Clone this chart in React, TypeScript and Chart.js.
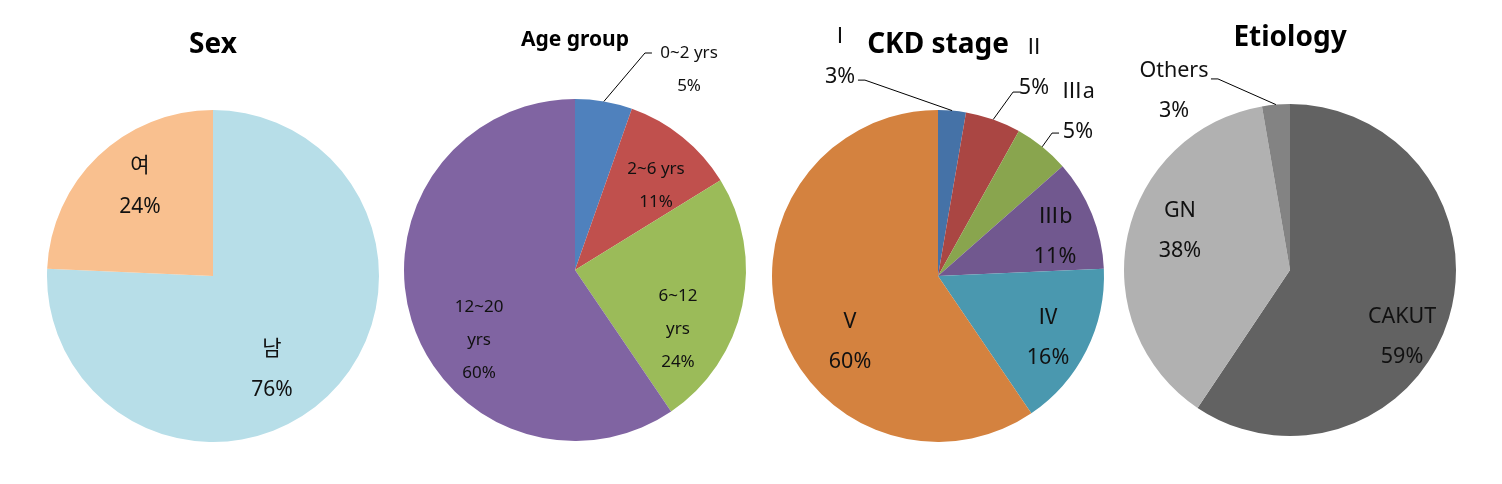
import React, { useEffect, useRef } from 'react';
import { Chart, registerables } from 'chart.js';

Chart.register(...registerables);

// ---- data (percent shares; labels show the rounded value) ----
const sexCategories = ['남', '여'];
const sexValues = [75.7, 24.3];

const ageCategories = ['0~2 yrs', '2~6 yrs', '6~12 yrs', '12~20 yrs'];
const ageValues = [5.4, 10.8, 24.3, 59.5];

const ckdCategories = ['Ⅰ', 'Ⅱ', 'Ⅲa', 'Ⅲb', 'Ⅳ', 'V'];
const ckdValues = [2.7, 5.4, 5.4, 10.8, 16.2, 59.5];

const etiologyCategories = ['CAKUT', 'GN', 'Others'];
const etiologyValues = [59.4, 37.9, 2.7];

const chartTitles = ['Sex', 'Age group', 'CKD stage', 'Etiology'];

// ---- styles / layout ----
const FONT = '"Noto Sans", "Noto Sans CJK KR", sans-serif';
const H = 484;

type Place = { at: [number, number]; leader?: [number, number]; tick?: number; wrap?: boolean };

type Spec = {
  title: string;
  titleSize: number;
  titleY: number;
  labels: string[];
  values: number[];
  colors: string[];
  left: number;
  width: number;
  padding: { left: number; right: number; top: number; bottom: number };
  fontSize: number;
  lineHeight: number;
  places: Place[];
};

const specs: Spec[] = [
  {
    title: chartTitles[0],
    titleSize: 28,
    titleY: 45,
    labels: sexCategories,
    values: sexValues,
    colors: ['#B7DEE8', '#F9C08F'],
    left: 0,
    width: 395,
    padding: { left: 47, right: 16, top: 110, bottom: 42 },
    fontSize: 21,
    lineHeight: 41,
    places: [{ at: [0.355, 0.566] }, { at: [-0.44, -0.542] }],
  },
  {
    title: chartTitles[1],
    titleSize: 21,
    titleY: 40,
    labels: ageCategories,
    values: ageValues,
    colors: ['#4F81BD', '#C0504D', '#9BBB59', '#8064A2'],
    left: 395,
    width: 365,
    padding: { left: 9, right: 14, top: 99, bottom: 43 },
    fontSize: 17,
    lineHeight: 33,
    places: [
      { at: [0.667, -1.172], leader: [0.409, -1.269], tick: 7 },
      { at: [0.474, -0.494] },
      { at: [0.602, 0.345], wrap: true },
      { at: [-0.561, 0.409], wrap: true },
    ],
  },
  {
    title: chartTitles[2],
    titleSize: 28,
    titleY: 45,
    labels: ckdCategories,
    values: ckdValues,
    colors: ['#4572A7', '#AA4643', '#89A54E', '#71588F', '#4A98AF', '#D4823F'],
    left: 760,
    width: 355,
    padding: { left: 12, right: 11, top: 110, bottom: 42 },
    fontSize: 21.5,
    lineHeight: 40,
    places: [
      { at: [-0.59, -1.319], leader: [-0.44, -1.18], tick: -7 },
      { at: [0.578, -1.253], leader: [0.452, -1.108], tick: 7 },
      { at: [0.843, -0.991], leader: [0.687, -0.861], tick: 7 },
      { at: [0.705, -0.238] },
      { at: [0.663, 0.373] },
      { at: [-0.53, 0.398] },
    ],
  },
  {
    title: chartTitles[3],
    titleSize: 28,
    titleY: 38,
    labels: etiologyCategories,
    values: etiologyValues,
    colors: ['#626262', '#B1B1B1', '#838383'],
    left: 1115,
    width: 387,
    padding: { left: 9, right: 46, top: 104, bottom: 48 },
    fontSize: 21.5,
    lineHeight: 40,
    places: [
      { at: [0.675, 0.404] },
      { at: [-0.663, -0.235] },
      { at: [-0.699, -1.081], leader: [-0.434, -1.151], tick: -7 },
    ],
  },
];

const pieLabelPlugin = {
  id: 'pieLabels',
  afterDatasetsDraw(chart: any, _args: any, opts: any) {
    const ctx: CanvasRenderingContext2D = chart.ctx;
    const meta = chart.getDatasetMeta(0);
    const labels = chart.data.labels as string[];
    const values = chart.data.datasets[0].data as number[];
    ctx.save();
    let cx = 0;
    meta.data.forEach((arc: any, i: number) => {
      const p = arc.getProps(['x', 'y', 'startAngle', 'endAngle', 'outerRadius'], true);
      cx = p.x;
      const r = p.outerRadius;
      const mid = (p.startAngle + p.endAngle) / 2;
      const place: Place = opts.places[i];
      if (!place) return;
      if (place.leader) {
        const ax = p.x + place.leader[0] * r;
        const ay = p.y + place.leader[1] * r;
        ctx.beginPath();
        ctx.strokeStyle = '#000';
        ctx.lineWidth = 1;
        ctx.moveTo(p.x + Math.cos(mid) * r, p.y + Math.sin(mid) * r);
        ctx.lineTo(ax, ay);
        ctx.lineTo(ax + (place.tick || 0), ay);
        ctx.stroke();
      }
      const name = String(labels[i]);
      const lines = place.wrap ? name.split(' ') : [name];
      lines.push(Math.round(values[i]) + '%');
      const tx = p.x + place.at[0] * r;
      const ty = p.y + place.at[1] * r;
      ctx.fillStyle = '#111';
      ctx.font = `${opts.fontSize}px ${FONT}`;
      ctx.textAlign = 'center';
      ctx.textBaseline = 'middle';
      const n = lines.length;
      lines.forEach((ln, k) => {
        ctx.fillText(ln, tx, ty + (k - (n - 1) / 2) * opts.lineHeight);
      });
    });
    ctx.fillStyle = '#000';
    ctx.font = `bold ${opts.titleSize}px ${FONT}`;
    ctx.textAlign = 'center';
    ctx.textBaseline = 'middle';
    ctx.fillText(opts.title, cx, opts.titleY);
    ctx.restore();
  },
};

function PieChart({ spec }: { spec: Spec }) {
  const ref = useRef<HTMLCanvasElement>(null);
  useEffect(() => {
    if (!ref.current) return;
    const chart = new Chart(ref.current, {
      type: 'pie',
      data: {
        labels: spec.labels,
        datasets: [
          {
            data: spec.values,
            backgroundColor: spec.colors,
            borderWidth: 0,
          },
        ],
      },
      options: {
        animation: false,
        responsive: false,
        events: [],
        layout: { padding: spec.padding },
        plugins: {
          legend: { display: false },
          tooltip: { enabled: false },
          title: { display: false },
          // @ts-ignore
          pieLabels: {
            places: spec.places,
            fontSize: spec.fontSize,
            lineHeight: spec.lineHeight,
            title: spec.title,
            titleSize: spec.titleSize,
            titleY: spec.titleY,
          },
        },
      },
      plugins: [pieLabelPlugin],
    } as any);
    return () => chart.destroy();
  }, [spec]);
  return (
    <canvas
      ref={ref}
      width={spec.width}
      height={H}
      style={{ position: 'absolute', left: spec.left, top: 0, width: spec.width, height: H }}
    />
  );
}

export default function App() {
  return (
    <div style={{ position: 'absolute', left: 0, top: 0, width: 1502, height: H, background: '#fff' }}>
      {specs.map((s) => (
        <PieChart key={s.title} spec={s} />
      ))}
    </div>
  );
}
